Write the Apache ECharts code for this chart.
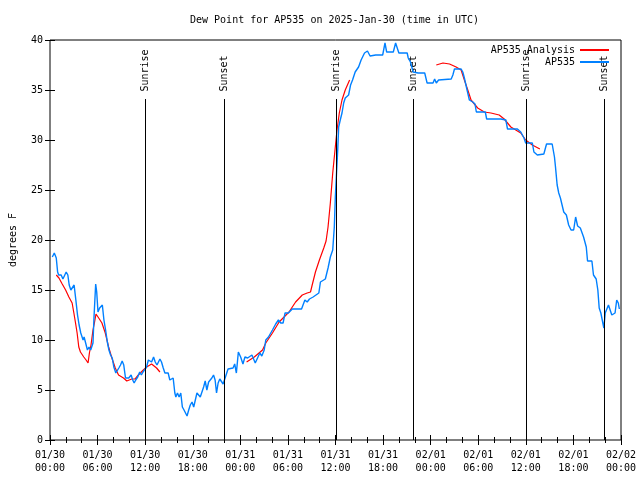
<!DOCTYPE html>
<html>
<head>
<meta charset="utf-8">
<script src="https://cdn.jsdelivr.net/npm/echarts@6/dist/echarts.min.js"></script>
<style>html,body{margin:0;padding:0;background:#fff}#c{width:640px;height:480px}</style>
</head>
<body>
<div id="c"></div>
<script>
// hours since 2025-01-30 00:00 UTC, dew point in degrees F
const xTickLabels = ['01/30\n00:00','01/30\n06:00','01/30\n12:00','01/30\n18:00','01/31\n00:00','01/31\n06:00','01/31\n12:00','01/31\n18:00','02/01\n00:00','02/01\n06:00','02/01\n12:00','02/01\n18:00','02/02\n00:00'];
const sunriseHours = [12.05, 36.1, 60.05];
const sunsetHours = [21.95, 45.85, 69.9];
const eventLineTop = 34.1;

const ap535Obs = [
[0.29,18.3],[0.54,18.7],[0.79,18.2],[0.96,16.8],[1.09,16.5],[1.41,16.5],[1.63,16.1],[2.04,16.8],[2.25,16.5],[2.42,15.5],[2.63,15.0],[2.84,15.2],[3.04,15.5],[3.26,14.0],[3.47,12.5],[3.67,11.5],[3.88,10.7],[4.17,10.0],[4.30,10.3],[4.51,10.3],[4.72,9.0],[4.92,9.3],[5.13,9.0],[5.42,9.7],[5.55,12.3],[5.76,15.6],[5.89,14.8],[6.05,12.8],[6.26,13.2],[6.39,13.3],[6.60,13.5],[6.80,12.0],[7.01,11.0],[7.23,9.8],[7.43,9.0],[7.64,8.5],[7.85,8.2],[8.05,7.3],[8.30,6.7],[8.52,6.7],[8.68,7.2],[8.89,7.5],[9.10,7.9],[9.30,7.5],[9.52,6.2],[9.73,6.0],[9.93,6.2],[10.23,6.5],[10.43,6.0],[10.61,5.7],[10.81,6.0],[11.06,6.3],[11.31,6.8],[11.52,6.5],[11.73,6.8],[11.93,7.0],[12.18,7.3],[12.40,8.0],[12.61,8.1],[12.81,7.8],[13.06,8.3],[13.27,7.8],[13.49,7.5],[13.65,7.3],[13.86,8.1],[14.06,7.8],[14.28,7.2],[14.49,6.7],[14.69,6.5],[14.90,6.7],[15.11,6.0],[15.31,5.8],[15.53,6.2],[15.74,4.7],[15.87,4.3],[16.07,4.7],[16.28,4.3],[16.49,4.7],[16.69,3.3],[16.90,3.0],[17.12,2.8],[17.28,2.4],[17.49,3.0],[17.69,3.5],[17.91,3.8],[18.12,3.3],[18.32,3.3],[18.53,4.7],[18.75,4.6],[18.95,4.3],[19.16,4.3],[19.37,5.3],[19.57,5.9],[19.78,5.0],[20.00,5.8],[20.20,5.9],[20.41,6.2],[20.62,6.5],[20.82,6.0],[21.00,4.7],[21.20,5.7],[21.41,6.1],[21.63,5.9],[21.83,5.6],[22.04,6.1],[22.25,6.2],[22.45,7.1],[22.67,7.2],[23.08,7.2],[23.29,7.6],[23.50,6.7],[23.75,8.8],[24.04,8.3],[24.33,7.6],[24.58,8.3],[24.92,8.2],[25.46,8.5],[25.88,7.7],[26.17,8.2],[26.46,8.7],[26.71,8.4],[27.01,9.0],[27.21,10.0],[27.55,10.3],[28.05,11.0],[28.46,11.6],[28.80,12.0],[29.09,11.7],[29.39,11.7],[29.64,12.7],[30.05,12.7],[30.55,13.1],[31.72,13.1],[32.14,14.0],[32.43,13.8],[32.72,14.1],[33.18,14.3],[33.90,14.7],[34.10,15.8],[34.72,16.1],[35.06,17.2],[35.35,18.3],[35.65,19.0],[35.85,21.3],[35.98,24.3],[36.15,27.0],[36.28,29.0],[36.40,31.3],[36.60,32.0],[36.82,32.7],[37.03,33.7],[37.23,34.2],[37.44,34.3],[37.65,34.5],[37.90,35.5],[38.15,36.0],[38.48,36.8],[38.91,37.3],[39.23,38.0],[39.66,38.7],[40.03,38.9],[40.36,38.4],[40.57,38.3],[41.07,38.5],[41.95,38.5],[42.24,39.7],[42.45,38.8],[43.29,38.8],[43.58,39.7],[43.79,39.7],[43.99,38.7],[45.04,38.7],[45.17,38.2],[45.45,37.8],[45.79,36.8],[46.42,36.7],[47.25,36.7],[47.55,35.7],[48.30,35.7],[48.50,36.1],[48.71,35.7],[49.00,36.0],[50.59,36.1],[50.80,36.5],[51.00,37.1],[51.84,37.1],[52.05,36.8],[52.25,36.2],[52.59,35.0],[52.88,34.0],[53.31,33.8],[53.59,33.6],[53.76,32.8],[54.89,32.8],[55.06,32.1],[56.85,32.1],[57.48,32.0],[57.69,31.1],[58.94,31.1],[59.36,30.8],[59.77,30.2],[59.98,29.7],[60.82,29.7],[61.02,28.8],[61.45,28.5],[62.27,28.6],[62.61,29.6],[63.32,29.6],[63.61,28.3],[63.74,27.3],[63.95,25.5],[64.15,24.7],[64.36,24.2],[64.78,22.8],[65.11,22.5],[65.40,21.5],[65.70,21.0],[66.03,21.0],[66.28,22.3],[66.53,21.4],[66.87,21.2],[67.28,20.3],[67.62,19.3],[67.78,17.9],[68.33,17.9],[68.53,16.5],[68.87,16.1],[69.08,15.0],[69.25,13.2],[69.46,12.7],[69.71,11.7],[69.84,11.2],[70.01,12.7],[70.22,12.6],[70.42,13.5],[70.67,13.3],[70.84,12.5],[71.05,12.3],[71.25,12.7],[71.46,14.0],[71.66,13.7],[71.79,13.1]
];

const analysisSeg1 = [
[0.79,16.5],[1.13,16.2],[1.54,15.6],[1.97,15.0],[2.38,14.3],[2.79,13.7],[3.01,12.7],[3.22,11.7],[3.42,10.7],[3.63,9.3],[3.84,8.8],[4.26,8.3],[4.55,8.0],[4.80,7.7],[4.97,8.7],[5.17,9.5],[5.42,11.0],[5.60,11.7],[5.80,12.6],[6.14,12.2],[6.55,11.7],[6.97,10.7],[7.39,9.3],[7.80,8.2],[8.23,7.2],[8.64,6.5],[9.27,6.2],[9.68,5.9],[10.31,6.1],[10.73,6.1],[11.14,6.5],[11.77,7.0],[12.18,7.3],[12.81,7.6],[13.44,7.2],[13.86,6.8]
];
const analysisSeg2 = [
[24.79,7.8],[25.76,8.3],[26.80,9.0],[27.21,9.7],[28.05,10.7],[28.89,11.8],[30.14,12.8],[30.97,13.8],[31.81,14.5],[32.43,14.7],[32.85,14.8],[33.06,15.5],[33.47,16.8],[33.97,18.0],[34.52,19.2],[34.81,19.9],[35.06,21.3],[35.35,23.7],[35.65,26.7],[35.90,28.7],[36.19,31.0],[36.48,32.7],[36.82,34.0],[37.23,35.0],[37.78,36.0]
];
const analysisSeg3 = [
[48.71,37.5],[49.55,37.7],[50.38,37.6],[51.21,37.3],[51.84,37.0],[52.25,36.0],[52.68,35.0],[53.09,34.0],[53.51,33.6],[53.93,33.2],[54.76,32.8],[55.60,32.7],[56.64,32.5],[57.27,32.1],[58.11,31.3],[59.36,30.7],[59.98,30.0],[60.82,29.5],[61.77,29.1]
];

const FONT = 'DejaVu Sans Mono';
const txt = {fontFamily: FONT, fontSize: 10, color: '#000'};

const chart = echarts.init(document.getElementById('c'), null, {renderer: 'canvas'});

const eventMarks = [];
const eventLines = [];
sunriseHours.forEach(h => { eventMarks.push([h, eventLineTop, 'Sunrise']); eventLines.push([{coord: [h, 0]}, {coord: [h, eventLineTop]}]); });
sunsetHours.forEach(h => { eventMarks.push([h, eventLineTop, 'Sunset']); eventLines.push([{coord: [h, 0]}, {coord: [h, eventLineTop]}]); });

const analysisStyle = {type: 'line', name: 'AP535 Analysis', showSymbol: false, symbol: 'none', xAxisIndex: 0, yAxisIndex: 0,
  lineStyle: {color: '#ff0000', width: 1.2}, itemStyle: {color: '#ff0000'}, animation: false, z: 3};

const legendCommon = {right: 25, align: 'right', itemWidth: 29, itemHeight: 10, textStyle: txt, selectedMode: false,
  itemStyle: {color: 'transparent', borderColor: 'transparent', borderWidth: 0, opacity: 0}};

const option = {
  animation: false,
  backgroundColor: '#fff',
  title: {
    text: 'Dew Point for AP535 on 2025-Jan-30 (time in UTC)',
    left: 185, top: 10,
    textStyle: {fontFamily: FONT, fontSize: 10, fontWeight: 'normal', color: '#000'}
  },
  grid: {left: 46, right: 19, top: 40, bottom: 40, show: true, borderColor: '#000', borderWidth: 1, backgroundColor: 'transparent'},
  legend: [
    Object.assign({data: ['AP535 Analysis'], top: 40}, legendCommon),
    Object.assign({data: ['AP535'], top: 52}, legendCommon)
  ],
  xAxis: [
    {type: 'value', min: 0, max: 72, interval: 6, position: 'bottom',
     axisLine: {show: false}, splitLine: {show: false},
     axisTick: {inside: true, length: 5, lineStyle: {color: '#000'}},
     minorTick: {show: true, splitNumber: 3, length: 3, lineStyle: {color: '#000'}},
     axisLabel: Object.assign({margin: 9, lineHeight: 13, showMinLabel: true, showMaxLabel: true,
       formatter: v => xTickLabels[Math.round(v / 6)]}, txt)},
    {type: 'value', min: 0, max: 72, interval: 6, position: 'top',
     axisLine: {show: false}, splitLine: {show: false}, axisLabel: {show: false},
     axisTick: {inside: true, length: 5, lineStyle: {color: '#000'}},
     minorTick: {show: true, splitNumber: 3, length: 3, lineStyle: {color: '#000'}}}
  ],
  yAxis: [
    {type: 'value', min: 0, max: 40, interval: 5, position: 'left',
     name: 'degrees F', nameLocation: 'middle', nameGap: 32, nameRotate: 90, nameTextStyle: txt,
     axisLine: {show: false}, splitLine: {show: false},
     axisTick: {inside: true, length: 5, lineStyle: {color: '#000'}},
     axisLabel: Object.assign({margin: 7}, txt)},
    {type: 'value', min: 0, max: 40, interval: 5, position: 'right',
     axisLine: {show: false}, splitLine: {show: false}, axisLabel: {show: false},
     axisTick: {inside: true, length: 5, lineStyle: {color: '#000'}}}
  ],
  series: [
    {type: 'scatter', name: 'events', data: eventMarks, symbolSize: 1, itemStyle: {color: 'rgba(0,0,0,0)'},
     xAxisIndex: 0, yAxisIndex: 0, silent: true, z: 2,
     label: {show: true, position: 'top', distance: 7, rotate: 90, align: 'left', verticalAlign: 'middle',
       formatter: p => p.data[2], fontFamily: FONT, fontSize: 10, color: '#000', opacity: 1},
     markLine: {silent: true, symbol: ['none', 'none'], label: {show: false},
       lineStyle: {color: '#000', width: 1, type: 'solid'}, data: eventLines, animation: false}},
    Object.assign({data: analysisSeg1}, analysisStyle),
    Object.assign({data: analysisSeg2}, analysisStyle),
    Object.assign({data: analysisSeg3}, analysisStyle),
    {type: 'line', name: 'AP535', data: ap535Obs, showSymbol: false, symbol: 'none', xAxisIndex: 0, yAxisIndex: 0,
     lineStyle: {color: '#0080ff', width: 1.4}, itemStyle: {color: '#0080ff'}, z: 4}
  ]
};
chart.setOption(option);
</script>
</body>
</html>
